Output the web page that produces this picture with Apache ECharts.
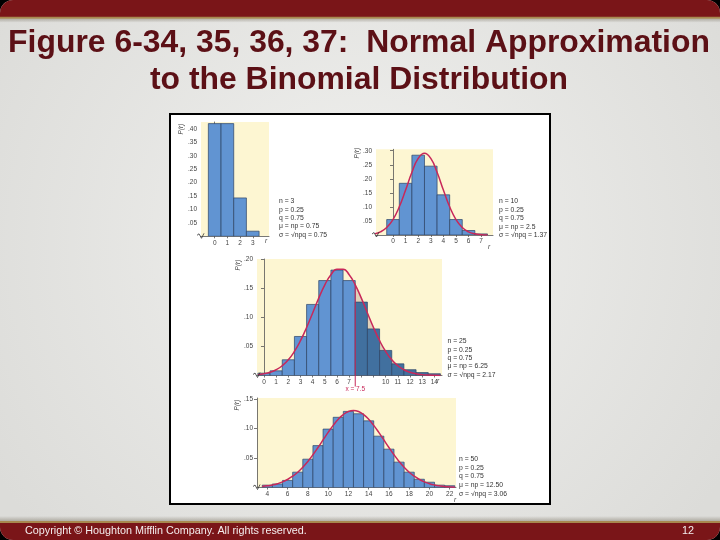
<!DOCTYPE html>
<html><head><meta charset="utf-8">
<script src="https://cdn.jsdelivr.net/npm/echarts@6/dist/echarts.min.js"></script>
<style>html,body{margin:0;padding:0;background:#000}#c{width:720px;height:540px}</style>
</head><body><div id="c"></div>
<script>
// ---------------- data ----------------
const titleLines = ['Figure 6-34, 35, 36, 37:  Normal Approximation', 'to the Binomial Distribution'];
const footerText = 'Copyright \u00A9 Houghton Mifflin Company. All rights reserved.';
const pageNumber = '12';

// Panel 1: n = 3
const r1 = [0, 1, 2, 3];
const p1 = [0.42, 0.42, 0.143, 0.019];
const xLabels1 = [0, 1, 2, 3];
const yLabels1 = [0.05, 0.10, 0.15, 0.20, 0.25, 0.30, 0.35, 0.40];
const stats1 = ['n = 3', 'p = 0.25', 'q = 0.75', '\u03BC = np = 0.75', '\u03C3 = \u221Anpq = 0.75'];

// Panel 2: n = 10
const r2 = [0, 1, 2, 3, 4, 5, 6, 7];
const p2 = [0.055, 0.184, 0.284, 0.245, 0.143, 0.055, 0.016, 0.004];
const curve2X = [-1.5, -1.0, -0.5, 0, 0.5, 1.0, 1.5, 2.0, 2.5, 3.0, 3.5, 4.0, 4.5, 5.0, 5.5, 6.0, 6.5, 7.0, 7.5];
const curve2Y = [0.0041, 0.0111, 0.0265, 0.0551, 0.1003, 0.1599, 0.2231, 0.2724, 0.2912, 0.2724, 0.2231, 0.1599, 0.1003, 0.0551, 0.0265, 0.0111, 0.0041, 0.0013, 0.0004];
const xLabels2 = [0, 1, 2, 3, 4, 5, 6, 7];
const yLabels2 = [0.05, 0.10, 0.15, 0.20, 0.25, 0.30];
const stats2 = ['n = 10', 'p = 0.25', 'q = 0.75', '\u03BC = np = 2.5', '\u03C3 = \u221Anpq = 1.37'];

// Panel 3: n = 25
const r3 = [0, 1, 2, 3, 4, 5, 6, 7, 8, 9, 10, 11, 12, 13, 14];
const p3 = [0.004, 0.008, 0.027, 0.067, 0.122, 0.163, 0.181, 0.163, 0.126, 0.080, 0.043, 0.020, 0.010, 0.005, 0.003];
const curve3X = [-0.5, 0, 0.5, 1.0, 1.5, 2.0, 2.5, 3.0, 3.5, 4.0, 4.5, 5.0, 5.5, 6.0, 6.5, 7.0, 7.5, 8.0, 8.5, 9.0, 9.5, 10.0, 10.5, 11.0, 11.5, 12.0, 12.5, 13.0, 13.5, 14.0, 14.5];
const curve3Y = [0.0015, 0.0029, 0.0055, 0.0099, 0.0168, 0.0270, 0.0413, 0.0598, 0.0824, 0.1074, 0.1328, 0.1557, 0.1731, 0.1826, 0.1826, 0.1731, 0.1557, 0.1328, 0.1074, 0.0824, 0.0598, 0.0413, 0.0270, 0.0168, 0.0099, 0.0055, 0.0029, 0.0015, 0.0007, 0.0003, 0.0001];
const cutoff3 = 7.5;
const cutoffLabel3 = 'x = 7.5';
const xLabels3 = [0, 1, 2, 3, 4, 5, 6, 7, 10, 11, 12, 13, 14];
const xTicks3 = [0, 1, 2, 3, 4, 5, 6, 7, 8, 9, 10, 11, 12, 13, 14];
const yLabels3 = [0.05, 0.10, 0.15, 0.20];
const stats3 = ['n = 25', 'p = 0.25', 'q = 0.75', '\u03BC = np = 6.25', '\u03C3 = \u221Anpq = 2.17'];

// Panel 4: n = 50
const r4 = [4, 5, 6, 7, 8, 9, 10, 11, 12, 13, 14, 15, 16, 17, 18, 19, 20, 21, 22];
const p4 = [0.004, 0.006, 0.012, 0.026, 0.048, 0.071, 0.099, 0.119, 0.129, 0.125, 0.113, 0.087, 0.065, 0.043, 0.026, 0.014, 0.009, 0.004, 0.003];
const curve4X = [3.5, 4.0, 4.5, 5.0, 5.5, 6.0, 6.5, 7.0, 7.5, 8.0, 8.5, 9.0, 9.5, 10.0, 10.5, 11.0, 11.5, 12.0, 12.5, 13.0, 13.5, 14.0, 14.5, 15.0, 15.5, 16.0, 16.5, 17.0, 17.5, 18.0, 18.5, 19.0, 19.5, 20.0, 20.5, 21.0, 21.5, 22.0, 22.5];
const curve4Y = [0.0017, 0.0028, 0.0043, 0.0065, 0.0095, 0.0137, 0.0191, 0.0259, 0.0343, 0.0442, 0.0555, 0.0678, 0.0806, 0.0934, 0.1053, 0.1156, 0.1236, 0.1287, 0.1304, 0.1287, 0.1236, 0.1156, 0.1053, 0.0934, 0.0806, 0.0678, 0.0555, 0.0442, 0.0343, 0.0259, 0.0191, 0.0137, 0.0095, 0.0065, 0.0043, 0.0028, 0.0017, 0.0011, 0.0006];
const xLabels4 = [4, 6, 8, 10, 12, 14, 16, 18, 20, 22];
const yLabels4 = [0.05, 0.10, 0.15];
const stats4 = ['n = 50', 'p = 0.25', 'q = 0.75', '\u03BC = np = 12.50', '\u03C3 = \u221Anpq = 3.06'];

// ---------------- styling / layout ----------------
const FONT = "'Liberation Sans', Arial, sans-serif";
const CREAM = '#fdf6d2';
const BAR = '#6194d2';
const BAR_DARK = '#41709f';
const BAR_EDGE = '#2c4466';
const CURVE = '#c8285a';
const AXIS = '#555';
const LABEL = '#444';
const MAROON = '#5c1016';
const RED = '#7a1518';

const panels = [
  {grid: {left: 201, top: 122, width: 68, height: 114.3}, x: [-1.08, 4.28], y: 0.426},
  {grid: {left: 376, top: 149.3, width: 117, height: 85.7}, x: [-1.35, 7.94], y: 0.305},
  {grid: {left: 257, top: 259, width: 185, height: 116.5}, x: [-0.575, 14.63], y: 0.20},
  {grid: {left: 257, top: 398, width: 199, height: 89.5}, x: [2.98, 22.62], y: 0.1517}
];

const fmtY = v => v.toFixed(2).replace(/^0/, '');

const grids = panels.map(p => Object.assign({show: true, backgroundColor: CREAM, borderWidth: 0, containLabel: false, outerBoundsMode: 'none'}, p.grid));

function xAxisOf(i, labels, ticks) {
  return {
    type: 'value', gridIndex: i, min: panels[i].x[0], max: panels[i].x[1], position: 'bottom',
    axisLine: {show: true, onZero: false, lineStyle: {color: AXIS, width: 0.8}},
    axisTick: {show: true, customValues: ticks, length: 2, lineStyle: {color: AXIS, width: 0.8}},
    axisLabel: {customValues: labels, fontSize: 6.5, color: LABEL, margin: 3, fontFamily: FONT},
    splitLine: {show: false}
  };
}
function yAxisOf(i, labels) {
  return {
    type: 'value', gridIndex: i, min: 0, max: panels[i].y,
    axisLine: {show: true, lineStyle: {color: AXIS, width: 0.8}},
    axisTick: {show: true, customValues: labels, length: 3, lineStyle: {color: AXIS, width: 0.8}},
    axisLabel: {customValues: labels, formatter: fmtY, fontSize: 6.5, color: LABEL, margin: 4, fontFamily: FONT},
    splitLine: {show: false}
  };
}

function barSeries(i, xs, ys, cutoff) {
  return {
    type: 'custom', xAxisIndex: i, yAxisIndex: i, z: 2, clip: true,
    data: xs.map((x, k) => [x, ys[k]]),
    renderItem(params, api) {
      const x = api.value(0), y = api.value(1);
      const a = api.coord([x - 0.5, y]);
      const b = api.coord([x + 0.5, 0]);
      const dark = cutoff != null && x > cutoff;
      return {type: 'rect', shape: {x: a[0], y: a[1], width: b[0] - a[0], height: b[1] - a[1]},
        style: {fill: dark ? BAR_DARK : BAR, stroke: BAR_EDGE, lineWidth: 0.7}};
    }
  };
}
function curveSeries(i, xs, ys) {
  return {
    type: 'line', xAxisIndex: i, yAxisIndex: i, z: 3, smooth: true, showSymbol: false, symbol: 'none',
    silent: true, data: xs.map((x, k) => [x, ys[k]]),
    lineStyle: {color: CURVE, width: 1.5}
  };
}
function breakSeries(i) {
  return {
    type: 'custom', xAxisIndex: i, yAxisIndex: i, z: 5, clip: false, silent: true,
    data: [[panels[i].x[0], 0]],
    renderItem(params, api) {
      const c = api.coord([api.value(0), api.value(1)]);
      return {type: 'polyline', shape: {points: [[c[0] - 4, c[1] - 1], [c[0] - 2, c[1] - 2.5], [c[0] + 0.5, c[1] + 2], [c[0] + 3, c[1] - 3]]},
        style: {stroke: '#333', fill: null, lineWidth: 0.8}};
    }
  };
}

// shaded area right of cutoff (panel 3)
const shadeX = curve3X.filter(x => x >= cutoff3);
const shadeY = curve3Y.filter((_, k) => curve3X[k] >= cutoff3);
const cutoffHeight = curve3Y[curve3X.indexOf(cutoff3)];

const series = [
  barSeries(0, r1, p1, null),
  breakSeries(0),
  {
    type: 'line', xAxisIndex: 2, yAxisIndex: 2, z: 1, smooth: true, showSymbol: false, symbol: 'none', silent: true,
    data: shadeX.map((x, k) => [x, shadeY[k]]),
    lineStyle: {width: 0}, areaStyle: {color: 'rgba(120,70,95,0.3)', origin: 'start'}
  },
  barSeries(1, r2, p2, null), curveSeries(1, curve2X, curve2Y), breakSeries(1),
  barSeries(2, r3, p3, cutoff3), curveSeries(2, curve3X, curve3Y), breakSeries(2),
  {
    type: 'custom', xAxisIndex: 2, yAxisIndex: 2, z: 4, clip: false, silent: true,
    data: [[cutoff3, cutoffHeight]],
    renderItem(params, api) {
      const top = api.coord([api.value(0), api.value(1)]);
      const base = api.coord([api.value(0), 0]);
      return {type: 'group', children: [
        {type: 'line', shape: {x1: top[0], y1: top[1], x2: base[0], y2: base[1] + 11}, style: {stroke: CURVE, lineWidth: 1}},
        {type: 'text', x: base[0], y: base[1] + 14, style: {text: cutoffLabel3, fill: CURVE, font: '6.5px ' + FONT, textAlign: 'center', textVerticalAlign: 'middle', verticalAlign: 'middle'}}
      ]};
    }
  },
  barSeries(3, r4, p4, null), curveSeries(3, curve4X, curve4Y), breakSeries(3)
];

// ---------------- decorative graphics ----------------
const g = [];
g.push({type: 'rect', z: -100, shape: {x: 0, y: 0, width: 720, height: 540}, style: {fill: '#000'}});
g.push({type: 'rect', z: -99, shape: {x: 0, y: 0, width: 720, height: 540, r: 13},
  style: {fill: {type: 'radial', x: 0.5, y: 0.45, r: 0.8, colorStops: [{offset: 0, color: '#f1f1ef'}, {offset: 1, color: '#dcdcd9'}]}}});
g.push({type: 'rect', z: -98, shape: {x: 0, y: 0, width: 720, height: 17, r: [13, 13, 0, 0]}, style: {fill: RED}});
g.push({type: 'rect', z: -98, shape: {x: 0, y: 16.7, width: 720, height: 2}, style: {fill: '#a8884f'}});
g.push({type: 'rect', z: -98, shape: {x: 0, y: 18.7, width: 720, height: 4},
  style: {fill: {type: 'linear', x: 0, y: 0, x2: 0, y2: 1, colorStops: [{offset: 0, color: 'rgba(90,80,60,0.35)'}, {offset: 1, color: 'rgba(90,80,60,0)'}]}}});
g.push({type: 'rect', z: -98, shape: {x: 0, y: 516, width: 720, height: 5},
  style: {fill: {type: 'linear', x: 0, y: 0, x2: 0, y2: 1, colorStops: [{offset: 0, color: 'rgba(90,80,60,0)'}, {offset: 1, color: 'rgba(90,80,60,0.35)'}]}}});
g.push({type: 'rect', z: -98, shape: {x: 0, y: 521, width: 720, height: 2}, style: {fill: '#a8884f'}});
g.push({type: 'rect', z: -98, shape: {x: 0, y: 523, width: 720, height: 17, r: [0, 0, 13, 13]}, style: {fill: RED}});
g.push({type: 'text', z: -90, style: {text: footerText, x: 25, y: 531.5, fill: '#f4eeee', font: '10.8px ' + FONT, textAlign: 'left', textVerticalAlign: 'middle', verticalAlign: 'middle'}});
g.push({type: 'text', z: -90, style: {text: pageNumber, x: 694, y: 531.5, fill: '#f4eeee', font: '10.8px ' + FONT, textAlign: 'right', textVerticalAlign: 'middle', verticalAlign: 'middle'}});
// title
g.push({type: 'text', z: -90, style: {text: titleLines[0], x: 359, y: 43, fill: MAROON, font: 'bold 31.9px ' + FONT, textAlign: 'center', textVerticalAlign: 'middle', verticalAlign: 'middle'}});
g.push({type: 'text', z: -90, style: {text: titleLines[1], x: 359, y: 80.5, fill: MAROON, font: 'bold 31.9px ' + FONT, textAlign: 'center', textVerticalAlign: 'middle', verticalAlign: 'middle'}});
// figure frame
g.push({type: 'rect', z: -95, shape: {x: 170, y: 114, width: 380, height: 390}, style: {fill: '#fff', stroke: '#000', lineWidth: 2}});

// stat text blocks
const statBlocks = [
  {lines: stats1, x: 279, y0: 201.3, dy: 8.35},
  {lines: stats2, x: 499, y0: 201.3, dy: 8.5},
  {lines: stats3, x: 447.5, y0: 341.3, dy: 8.35},
  {lines: stats4, x: 459, y0: 459, dy: 8.75}
];
statBlocks.forEach(b => b.lines.forEach((t, k) => {
  g.push({type: 'text', z: 10, style: {text: t, x: b.x, y: b.y0 + k * b.dy, fill: '#333', font: '6.8px ' + FONT, textAlign: 'left', textVerticalAlign: 'middle', verticalAlign: 'middle'}});
}));
// axis names
const yNames = [[181.5, 129], [357, 153], [238, 265], [237, 405]];
yNames.forEach(p => g.push({type: 'text', z: 10, x: p[0], y: p[1], rotation: Math.PI / 2,
  style: {text: 'P(r)', x: 0, y: 0, fill: '#444', font: 'italic 6.5px ' + FONT, textAlign: 'center', textVerticalAlign: 'middle', verticalAlign: 'middle'}}));
const xNames = [[266, 241], [489, 247], [438, 381], [455, 500]];
xNames.forEach(p => g.push({type: 'text', z: 10, style: {text: 'r', x: p[0], y: p[1], fill: '#444', font: 'italic 6.5px ' + FONT, textAlign: 'center', textVerticalAlign: 'middle', verticalAlign: 'middle'}}));

const chart = echarts.init(document.getElementById('c'), null, {renderer: 'canvas'});
chart.setOption({
  animation: false,
  grid: grids,
  xAxis: [xAxisOf(0, xLabels1, xLabels1), xAxisOf(1, xLabels2, xLabels2), xAxisOf(2, xLabels3, xTicks3), xAxisOf(3, xLabels4, xLabels4)],
  yAxis: [yAxisOf(0, yLabels1), yAxisOf(1, yLabels2), yAxisOf(2, yLabels3), yAxisOf(3, yLabels4)],
  graphic: {elements: g},
  series: series
});
</script></body></html>
